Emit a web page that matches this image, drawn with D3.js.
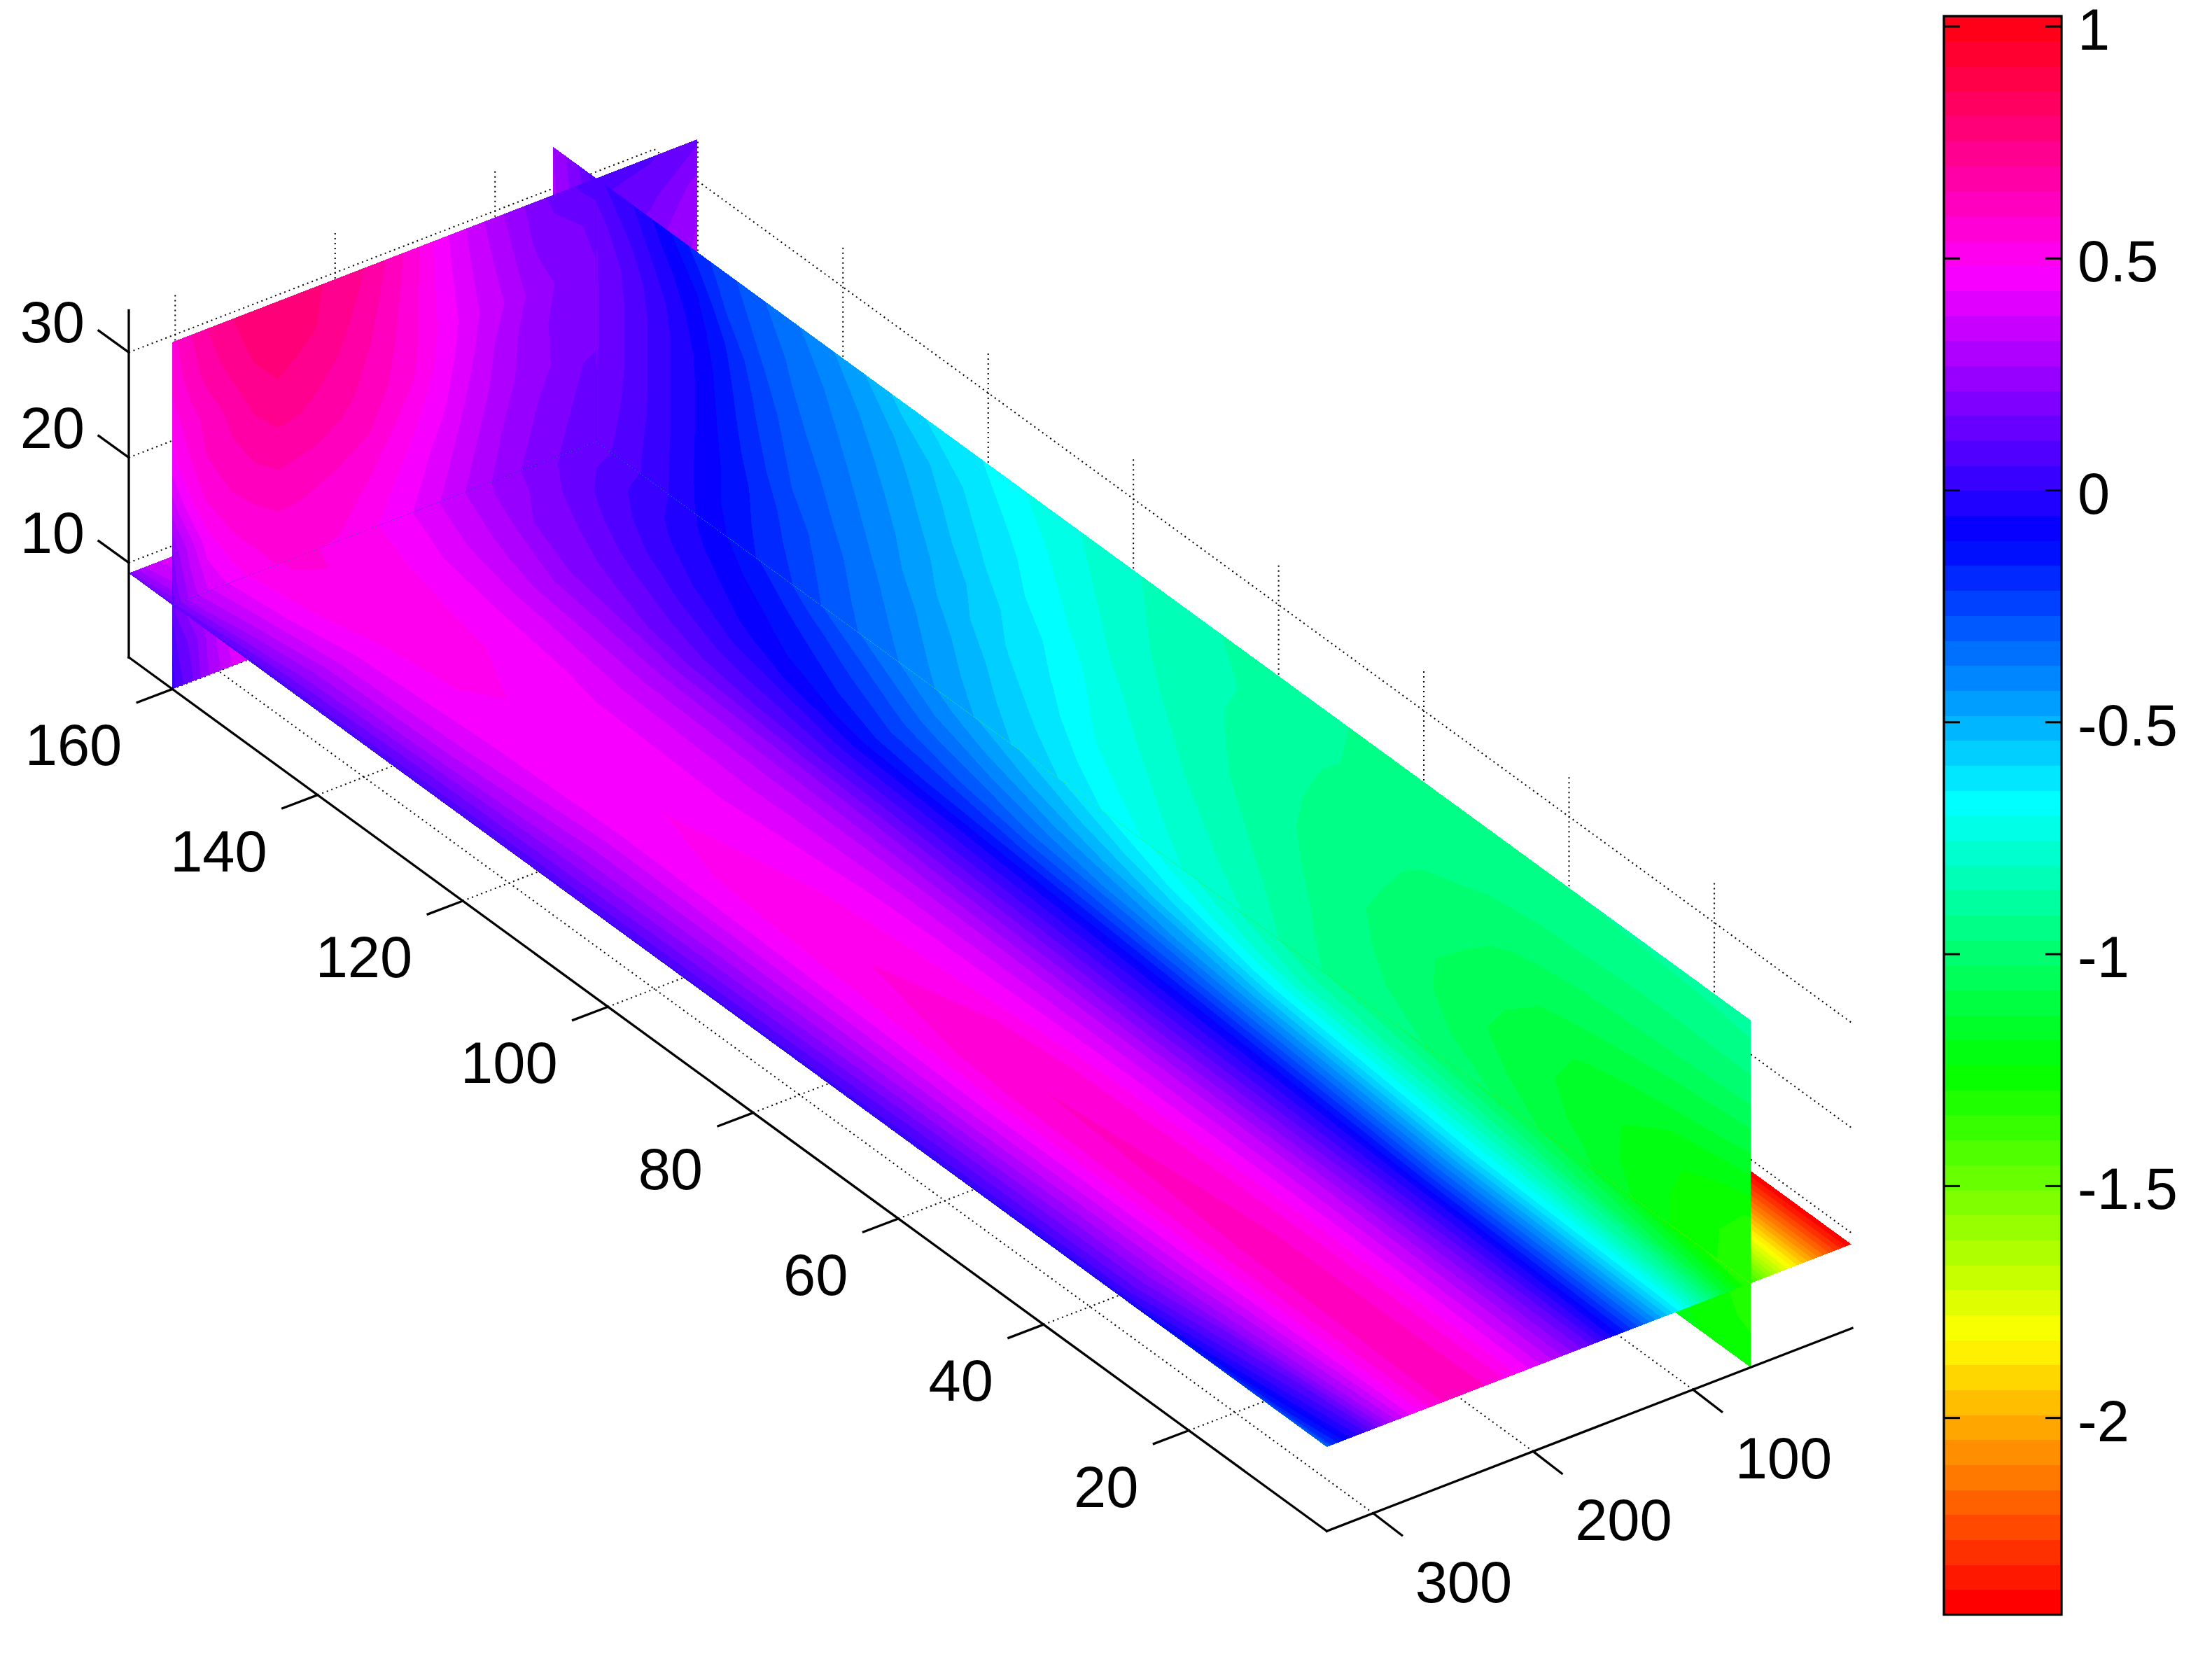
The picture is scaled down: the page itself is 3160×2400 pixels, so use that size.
<!DOCTYPE html>
<html><head><meta charset="utf-8">
<style>html,body{margin:0;background:#fff}svg{display:block}text{font-family:"Liberation Sans",Arial,sans-serif;font-size:83px;fill:#000}</style>
<script src="https://cdn.jsdelivr.net/npm/d3@7"></script></head><body>
<script>
const xTicks=[100,200,300], yTicks=[20,40,60,80,100,120,140,160], zTicks=[10,20,30];
const cbTicks=[1,0.5,0,-0.5,-1,-1.5,-2];
const xDomain=[0.5,329], yDomain=[1,166], zDomain=[1,34], cDomain=[-2.424,1.0226];
const sliceX=64, sliceY=160, sliceZ=9;

// slice z = 9 : rows by y, columns by x
const zpCols=[1,20,37,50,64,79,92,106,120,135,147,165,185,205,225,245,260,275,290,305,318,326,329];
const zpRows=[1,30,60,90,110,128,145,153,160,166];
const zpVals=[
[-2.42,-2.13,-1.85,-1.62,-1.36,-1.15,-.92,-.69,-.48,-.26,-.10,.12,.3,.45,.58,.63,.58,.45,.27,.05,-.1,-.22,-.35],
[-2.42,-2.1,-1.7,-1.35,-1.08,-.93,-.79,-.63,-.43,-.22,-.05,.14,.32,.46,.58,.62,.57,.46,.35,.225,.108,.02,-.05],
[-2.4,-2.05,-1.55,-1.2,-.916,-.81,-.67,-.49,-.31,-.12,0,.16,.33,.45,.56,.59,.55,.46,.36,.24,.12,.05,0],
[-2.3,-1.9,-1.3,-.95,-.646,-.54,-.44,-.33,-.2,-.05,.05,.2,.34,.43,.49,.52,.5,.44,.35,.25,.15,.08,.04],
[-2,-1.6,-1,-.7,-.463,-.38,-.3,-.22,-.14,-.01,.08,.23,.34,.41,.46,.485,.47,.43,.345,.26,.16,.09,.05],
[-1.6,-1.2,-.8,-.5,-.28,-.19,-.13,-.08,-.01,.07,.13,.25,.35,.42,.46,.475,.47,.44,.38,.29,.17,.1,.05],
[-1,-.7,-.4,-.2,-.07,-.025,.015,.065,.12,.175,.21,.295,.385,.455,.495,.51,.5,.46,.4,.3,.2,.11,.05],
[-.4,-.2,-.05,0,.04,.06,.095,.14,.185,.215,.275,.34,.41,.47,.515,.535,.53,.49,.43,.34,.24,.14,.09],
[-.1,.02,.07,.1,.135,.15,.17,.2,.24,.285,.325,.385,.45,.495,.535,.54,.54,.51,.45,.37,.29,.19,.13],
[-.2,0,.15,.25,.28,.2,.22,.25,.29,.33,.37,.42,.48,.52,.56,.57,.57,.54,.48,.4,.33,.24,.16]];

// slice x = 64 : rows by z, columns by y
const xpCols=[1,6,12,18,24,30,37,46,54,60,66,71,79,85,91,97,103,108,114,118,124,129,133,138,142,146,151,155,160,163,166];
const xpRows=[1,5,9,12,15,18,21,24,27,30,34];
const xpVals=[
[-1.26,-1.25,-1.22,-1.18,-1.12,-1.08,-1.02,-.97,-.94,-.916,-.862,-.808,-.757,-.70,-.641,-.587,-.538,-.485,-.425,-.381,-.323,-.27,-.215,-.162,-.108,-.06,.01,.068,.135,.22,.28],
[-1.30,-1.28,-1.24,-1.18,-1.12,-1.08,-1.02,-.97,-.94,-.916,-.862,-.808,-.757,-.70,-.641,-.587,-.538,-.485,-.425,-.381,-.323,-.27,-.215,-.162,-.108,-.06,.01,.068,.135,.22,.28],
[-1.33,-1.29,-1.24,-1.18,-1.12,-1.08,-1.02,-.97,-.94,-.916,-.862,-.808,-.757,-.70,-.641,-.587,-.538,-.485,-.425,-.381,-.323,-.27,-.215,-.162,-.108,-.06,.013,.068,.135,.22,.28],
[-1.345,-1.285,-1.24,-1.195,-1.145,-1.11,-1.06,-1.0,-.955,-.925,-.875,-.83,-.775,-.73,-.675,-.615,-.56,-.505,-.44,-.395,-.335,-.28,-.23,-.17,-.12,-.063,.015,.075,.15,.22,.28],
[-1.30,-1.265,-1.23,-1.19,-1.155,-1.12,-1.08,-1.015,-.965,-.93,-.885,-.85,-.79,-.745,-.703,-.637,-.58,-.52,-.453,-.41,-.345,-.29,-.245,-.175,-.12,-.063,.02,.085,.16,.22,.28],
[-1.22,-1.205,-1.185,-1.165,-1.14,-1.105,-1.065,-1.015,-.97,-.937,-.895,-.862,-.808,-.76,-.712,-.651,-.60,-.545,-.475,-.43,-.36,-.31,-.27,-.195,-.13,-.06,.02,.09,.165,.22,.28],
[-1.14,-1.125,-1.11,-1.095,-1.085,-1.075,-1.04,-.995,-.96,-.934,-.904,-.874,-.82,-.775,-.72,-.66,-.608,-.55,-.485,-.44,-.377,-.325,-.285,-.21,-.14,-.06,.02,.09,.165,.22,.28],
[-1.07,-1.065,-1.06,-1.055,-1.05,-1.035,-1.015,-.982,-.95,-.93,-.90,-.875,-.83,-.79,-.74,-.68,-.63,-.575,-.503,-.457,-.39,-.347,-.30,-.225,-.15,-.065,.02,.09,.165,.22,.28],
[-1.0,-.995,-.99,-.985,-.98,-.978,-.975,-.96,-.937,-.92,-.895,-.875,-.835,-.80,-.75,-.695,-.637,-.592,-.52,-.474,-.41,-.357,-.32,-.25,-.165,-.085,.01,.08,.165,.21,.28],
[-.95,-.955,-.96,-.962,-.962,-.962,-.955,-.94,-.925,-.91,-.885,-.865,-.83,-.805,-.76,-.71,-.655,-.61,-.54,-.495,-.43,-.375,-.335,-.275,-.215,-.11,-.025,.05,.135,.2,.28],
[-.89,-.90,-.905,-.91,-.915,-.925,-.925,-.925,-.92,-.91,-.89,-.875,-.84,-.808,-.77,-.73,-.685,-.635,-.60,-.56,-.47,-.41,-.365,-.31,-.25,-.19,-.08,0,.07,.18,.27]];

// slice y = 160 : rows by z, columns by x
const ypCols=[1,30,64,72,90,100,110,122,134,145,160,180,205,225,240,250,263,277,291,307,317,326,329];
const ypRows=[1,5,9,14,18,22,25.5,30,34];
const ypVals=[
[.3,.2,.12,.13,.16,.19,.22,.25,.28,.3,.33,.36,.4,.43,.45,.46,.46,.45,.38,.26,.15,.07,.02],
[.3,.2,.13,.14,.17,.2,.23,.27,.3,.32,.35,.39,.44,.48,.5,.5,.5,.47,.43,.28,.18,.11,.06],
[.3,.2,.135,.14,.165,.19,.213,.246,.283,.32,.372,.435,.495,.535,.54,.54,.54,.51,.45,.37,.29,.19,.13],
[.3,.2,.15,.15,.185,.21,.235,.269,.31,.35,.405,.47,.538,.565,.58,.59,.592,.57,.545,.47,.36,.26,.21],
[.3,.2,.162,.165,.21,.23,.255,.29,.335,.375,.44,.505,.59,.62,.635,.64,.646,.63,.60,.55,.48,.38,.34],
[.29,.2,.165,.175,.205,.23,.26,.30,.35,.40,.46,.55,.625,.665,.685,.695,.70,.675,.64,.595,.54,.48,.45],
[.27,.2,.165,.18,.215,.245,.275,.325,.365,.41,.47,.56,.64,.69,.715,.735,.745,.72,.67,.61,.57,.52,.50],
[.23,.15,.14,.16,.18,.2,.245,.295,.345,.39,.46,.565,.665,.725,.755,.765,.78,.765,.725,.67,.62,.57,.55],
[.15,.1,.07,.09,.145,.175,.22,.269,.323,.375,.45,.57,.69,.74,.76,.78,.80,.78,.754,.70,.646,.592,.57]];

const W=3160,H=2400;
const svg=d3.select("body").append("svg").attr("width",W).attr("height",H);

// oblique projection, built from three linear scales
const O=[1895.4,2187.3];
const pxX=d3.scaleLinear([329,0.5],[0,750.6]), pyX=d3.scaleLinear([329,0.5],[0,-290]);
const pxY=d3.scaleLinear([1,166],[0,-1711.4]), pyY=d3.scaleLinear([1,166],[0,-1248.3]);
const pyZ=d3.scaleLinear([1,34],[0,-495.7]);
const P=(x,y,z)=>[O[0]+pxX(x)+pxY(y),O[1]+pyX(x)+pyY(y)+pyZ(z)];

// colour map: 64 hsv levels
const nC=64, step=(cDomain[1]-cDomain[0])/nC;
const levels=d3.range(nC).map(i=>cDomain[0]+i*step);
const colour=i=>d3.hsl(i/nC*360,1,.5).formatHex();

function planePaths(cols,rows,vals,map){
  const n=cols.length,m=rows.length;
  const ci=d3.scaleLinear(d3.range(n),cols), ri=d3.scaleLinear(d3.range(m),rows);
  const clampI=(v,k)=>Math.max(0,Math.min(k-1,v-.5));
  const tr=d3.geoTransform({point(a,b){const p=map(ci(clampI(a,n)),ri(clampI(b,m)));this.stream.point(p[0],p[1]);}});
  const path=d3.geoPath(tr);
  const c=d3.contours().size([n,m]).thresholds(levels)(vals.flat());
  return c.map((g,i)=>({d:path(g),i})).filter(o=>o.d);
}
const zPaths=planePaths(zpCols,zpRows,zpVals,(x,y)=>P(x,y,sliceZ));
const xPaths=planePaths(xpCols,xpRows,xpVals,(y,z)=>P(sliceX,y,z));
const yPaths=planePaths(ypCols,ypRows,ypVals,(x,z)=>P(x,sliceY,z));

// grid
const gridSegs=[];
xTicks.forEach(x=>{gridSegs.push([P(x,1,1),P(x,166,1)]);gridSegs.push([P(x,166,1),P(x,166,34)]);});
yTicks.forEach(y=>{gridSegs.push([P(329,y,1),P(.5,y,1)]);gridSegs.push([P(.5,y,1),P(.5,y,34)]);});
zTicks.forEach(z=>{gridSegs.push([P(329,166,z),P(.5,166,z)]);gridSegs.push([P(.5,166,z),P(.5,1,z)]);});
svg.append("g").selectAll("line").data(gridSegs).join("line")
 .attr("x1",d=>d[0][0]).attr("y1",d=>d[0][1]).attr("x2",d=>d[1][0]).attr("y2",d=>d[1][1])
 .attr("stroke","#000").attr("stroke-width",2).attr("stroke-dasharray","2 5");

// slices, painted back to front
const defs=svg.append("defs");
let cid=0;
function piece(paths,corners){
  const id="c"+(cid++);
  defs.append("clipPath").attr("id",id).append("polygon").attr("points",corners.map(p=>p.join(",")).join(" "));
  svg.append("g").attr("clip-path",`url(#${id})`).attr("shape-rendering","crispEdges")
   .selectAll("path").data(paths).join("path").attr("d",d=>d.d).attr("fill",d=>colour(d.i));
}
const xp=(y0,y1,z0,z1)=>[P(sliceX,y0,z0),P(sliceX,y1,z0),P(sliceX,y1,z1),P(sliceX,y0,z1)];
const yp=(z0,z1)=>[P(.5,sliceY,z0),P(329,sliceY,z0),P(329,sliceY,z1),P(.5,sliceY,z1)];
piece(xPaths,xp(sliceY,166,1,sliceZ));
piece(yPaths,yp(1,sliceZ));
piece(xPaths,xp(1,sliceY,1,sliceZ));
piece(zPaths,[P(.5,1,sliceZ),P(329,1,sliceZ),P(329,166,sliceZ),P(.5,166,sliceZ)]);
piece(xPaths,xp(sliceY,166,sliceZ,34));
piece(yPaths,yp(sliceZ,34));
piece(xPaths,xp(1,sliceY,sliceZ,34));

// axes
const axisSegs=[[P(329,166,1),P(329,166,34)],[P(329,166,1),P(329,1,1)],[P(329,1,1),P(.5,1,1)]];
const tickSegs=[];
xTicks.forEach(x=>{const p=P(x,1,1);tickSegs.push([p,[p[0]+41,p[1]+31.6]]);});
yTicks.forEach(y=>{const p=P(329,y,1);tickSegs.push([p,[p[0]-50,p[1]+19]]);});
zTicks.forEach(z=>{const p=P(329,166,z);tickSegs.push([p,[p[0]-43,p[1]-31]]);});
svg.append("g").selectAll("line").data(axisSegs.concat(tickSegs)).join("line")
 .attr("x1",d=>d[0][0]).attr("y1",d=>d[0][1]).attr("x2",d=>d[1][0]).attr("y2",d=>d[1][1])
 .attr("stroke","#000").attr("stroke-width",3.3).attr("stroke-linecap","square");
const labels=[];
xTicks.forEach(x=>{const p=P(x,1,1);labels.push({t:x,x:p[0]+60,y:p[1]+127,a:"start"});});
yTicks.forEach(y=>{const p=P(329,y,1);labels.push({t:y,x:p[0]-72,y:p[1]+109,a:"end"});});
zTicks.forEach(z=>{const p=P(329,166,z);labels.push({t:z,x:121,y:p[1]-14,a:"end"});});
svg.append("g").selectAll("text").data(labels).join("text")
 .attr("x",d=>d.x).attr("y",d=>d.y).attr("text-anchor",d=>d.a).text(d=>d.t);

// colour bar
const cb={l:2777,r:2945,t:23,b:2306.6};
const cy=d3.scaleLinear(cDomain,[cb.b,cb.t]);
const cg=svg.append("g");
cg.selectAll("rect").data(levels).join("rect").attr("x",cb.l).attr("width",cb.r-cb.l)
 .attr("y",d=>cy(d+step)).attr("height",d=>cy(d)-cy(d+step)+.5).attr("fill",(d,i)=>colour(i)).attr("shape-rendering","crispEdges");
cg.append("rect").attr("x",cb.l).attr("y",cb.t).attr("width",cb.r-cb.l).attr("height",cb.b-cb.t)
 .attr("fill","none").attr("stroke","#000").attr("stroke-width",3.3);
cbTicks.forEach(v=>{
  const y=cy(v);
  cg.append("line").attr("x1",cb.l).attr("x2",cb.l+23).attr("y1",y).attr("y2",y).attr("stroke","#000").attr("stroke-width",3);
  cg.append("line").attr("x1",cb.r-23).attr("x2",cb.r).attr("y1",y).attr("y2",y).attr("stroke","#000").attr("stroke-width",3);
  cg.append("text").attr("x",2968).attr("y",y+33).text(v);
});
</script></body></html>
